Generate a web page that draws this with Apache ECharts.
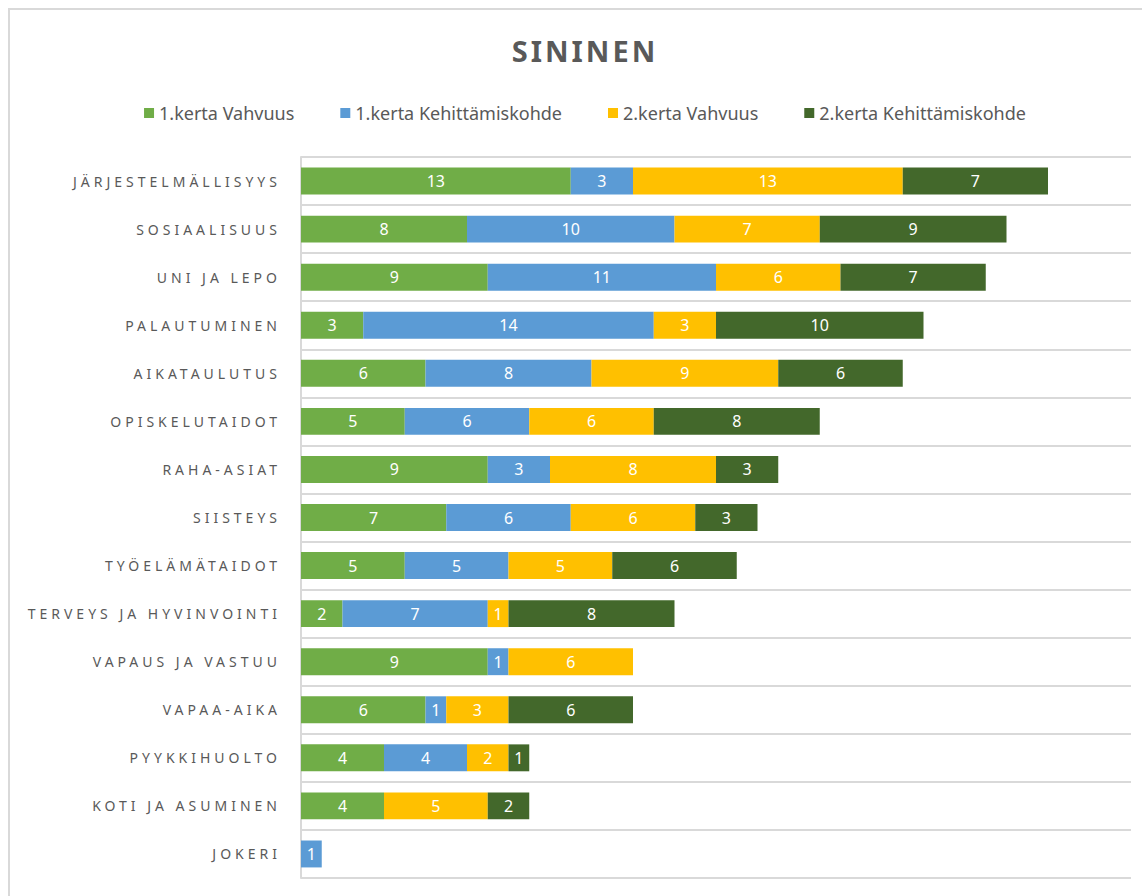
<!DOCTYPE html>
<html>
<head>
<meta charset="utf-8">
<script src="https://cdn.jsdelivr.net/npm/echarts@6/dist/echarts.min.js"></script>
<style>
  html, body { margin: 0; padding: 0; background: #fff; overflow: hidden; }
  .frame {
    position: absolute; left: 8px; top: 8px; width: 1170px; height: 920px;
    border: 2px solid #d9d9d9; box-sizing: border-box;
  }
  #chart { position: absolute; left: 0; top: 0; width: 1170px; height: 896px; }
</style>
</head>
<body>
<div class="frame"></div>
<div id="chart"></div>
<script>
const categories = [
  'JÄRJESTELMÄLLISYYS', 'SOSIAALISUUS', 'UNI JA LEPO', 'PALAUTUMINEN',
  'AIKATAULUTUS', 'OPISKELUTAIDOT', 'RAHA-ASIAT', 'SIISTEYS',
  'TYÖELÄMÄTAIDOT', 'TERVEYS JA HYVINVOINTI', 'VAPAUS JA VASTUU',
  'VAPAA-AIKA', 'PYYKKIHUOLTO', 'KOTI JA ASUMINEN', 'JOKERI'
]
const vahvuus1 = [13, 8, 9, 3, 6, 5, 9, 7, 5, 2, 9, 6, 4, 4, null]
const kehitys1 = [3, 10, 11, 14, 8, 6, 3, 6, 5, 7, 1, 1, 4, null, 1]
const vahvuus2 = [13, 7, 6, 3, 9, 6, 8, 6, 5, 1, 6, 3, 2, 5, null]
const kehitys2 = [7, 9, 7, 10, 6, 8, 3, 3, 6, 8, null, 6, 1, 2, null]

const names = ['1.kerta Vahvuus', '1.kerta Kehittämiskohde', '2.kerta Vahvuus', '2.kerta Kehittämiskohde']
const colors = ['#70AD47', '#5B9BD5', '#FFC000', '#43682B']
const values = [vahvuus1, kehitys1, vahvuus2, kehitys2]
const titleText = 'SININEN'

const font = 'Noto Sans'

const option = {
  animation: false,
  color: colors,
  title: {
    text: titleText,
    left: 'center',
    top: 31,
    textStyle: { fontFamily: font, fontSize: 29, fontWeight: 'bold', color: '#595959' }
  },
  legend: {
    top: 99,
    left: 'center',
    itemWidth: 10,
    itemHeight: 10,
    itemGap: 46,
    icon: 'rect',
    textStyle: { fontFamily: font, fontSize: 18, color: '#595959' },
    data: names
  },
  grid: {
    left: 301,
    right: 39,
    top: 157,
    bottom: 18
  },
  xAxis: {
    type: 'value',
    min: 0,
    max: 40,
    show: false
  },
  yAxis: {
    type: 'category',
    inverse: true,
    data: categories,
    axisTick: { show: false },
    axisLine: { show: true, lineStyle: { color: '#d9d9d9', width: 2 } },
    splitLine: { show: true, lineStyle: { color: '#d9d9d9', width: 2 } },
    axisLabel: { fontFamily: font, fontSize: 14, color: '#595959', margin: 20 }
  },
  series: values.map((v, i) => ({
    name: names[i],
    type: 'bar',
    stack: 'total',
    barWidth: '56%',
    data: v,
    label: {
      show: true,
      position: 'inside',
      color: '#fff',
      fontFamily: font,
      fontSize: 16
    }
  }))
}

const myChart = echarts.init(document.getElementById('chart'), null, { renderer: 'svg' })

// letter spacing for the category labels and title, like the original
const spaceOut = () => {
  document.querySelectorAll('#chart text').forEach((t) => {
    const s = t.textContent
    if (categories.includes(s)) t.style.letterSpacing = '4px'
    else if (s === titleText) t.style.letterSpacing = '3px'
  })
}
myChart.on('rendered', spaceOut)
myChart.setOption(option)
spaceOut()
</script>
</body>
</html>
